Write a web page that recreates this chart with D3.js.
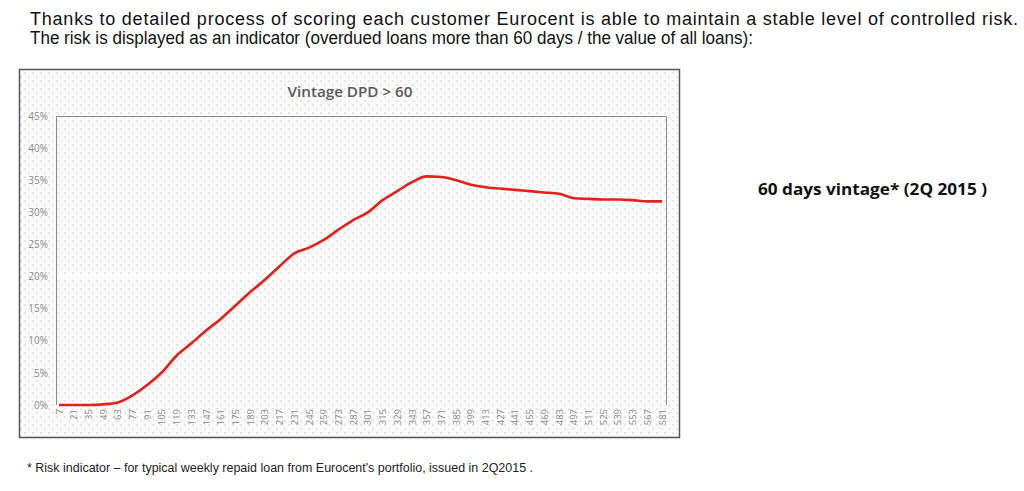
<!DOCTYPE html>
<html>
<head>
<meta charset="utf-8">
<script src="https://cdn.jsdelivr.net/npm/d3@7/dist/d3.min.js"></script>
<style>
html,body{margin:0;padding:0;background:#fff;}
svg{display:block;}
</style>
</head>
<body>
<svg id="c" width="1024" height="491"></svg>
<script>
const headerLines = [
  "Thanks to detailed process of scoring each customer Eurocent is able to maintain a stable level of controlled risk.",
  "The risk is displayed as an indicator (overdued loans more than 60 days / the value of all loans):"
];
const chartTitle = "Vintage DPD > 60";
const sideNote = "60 days vintage* (2Q 2015 )";
const footNote = "* Risk indicator \u2013 for typical weekly repaid loan from Eurocent's portfolio, issued in 2Q2015 .";

const days = [7,21,35,49,63,77,91,105,119,133,147,161,175,189,203,217,231,245,259,273,287,301,315,329,343,357,371,385,399,413,427,441,455,469,483,497,511,525,539,553,567,581];
const riskPct = [0,0,0,0.1,0.4,1.5,3.1,5.1,7.7,9.6,11.6,13.4,15.5,17.6,19.5,21.6,23.6,24.5,25.7,27.3,28.8,30.0,31.9,33.3,34.7,35.6,35.5,35.0,34.3,33.9,33.7,33.5,33.3,33.1,32.9,32.2,32.1,32.0,32.0,31.9,31.7,31.7];
const yTicks = [0,5,10,15,20,25,30,35,40,45];

const svg = d3.select("#c");

// pattern background
const defs = svg.append("defs");
const pat = defs.append("pattern").attr("id","dots").attr("width",8).attr("height",8).attr("patternUnits","userSpaceOnUse");
pat.append("rect").attr("width",8).attr("height",8).attr("fill","#fcfbfb");
pat.append("circle").attr("cx",1).attr("cy",1).attr("r",0.7).attr("fill","#cfbcbc");
pat.append("circle").attr("cx",5).attr("cy",5).attr("r",0.7).attr("fill","#c6c6c6");

// header
svg.append("g").selectAll("text").data(headerLines).join("text")
  .attr("x",30).attr("y",(d,i)=>25+i*19)
  .attr("font-family","Liberation Sans, Arial, sans-serif")
  .attr("font-size",18).attr("fill","#111")
  .attr("textLength",(d,i)=>i===0?988:723)
  .attr("lengthAdjust",(d,i)=>i===0?"spacing":"spacingAndGlyphs")
  .text(d=>d);

// chart box
svg.append("rect").attr("x",19.5).attr("y",69.5).attr("width",660).attr("height",368)
  .attr("fill","url(#dots)").attr("stroke","#555").attr("stroke-width",1.5);

const x = d3.scaleLinear().domain([7,581]).range([59,662]);
const y = d3.scaleLinear().domain([0,45]).range([405,116]);

// plot border (left, top, right)
svg.append("path")
  .attr("d",`M56.5,405 V116.5 H666.5 V405`)
  .attr("fill","none").attr("stroke","#8c8c8c").attr("stroke-width",1);

// faint gridline
svg.append("line").attr("x1",57).attr("x2",666).attr("y1",y(20)).attr("y2",y(20))
  .attr("stroke","#ffffff").attr("stroke-width",1.5).attr("opacity",0.8);

// title
svg.append("text").attr("x",350).attr("y",97).attr("text-anchor","middle")
  .attr("font-family","Open Sans, sans-serif").attr("font-weight",600)
  .attr("font-size",14.5).attr("fill","#595959")
  .attr("textLength",125).attr("lengthAdjust","spacingAndGlyphs").text(chartTitle);

// y axis
const yAxis = d3.axisLeft(y).tickValues(yTicks).tickSize(0).tickPadding(5).tickFormat(d=>d+"%");
const gy = svg.append("g").attr("transform","translate(53,0)").call(yAxis);
gy.select(".domain").remove();
gy.selectAll("text").attr("font-family","Open Sans, sans-serif").attr("font-size",10).attr("fill","#8a8a8a");

// x axis
const xAxis = d3.axisBottom(x).tickValues(days).tickSize(0).tickPadding(0).tickFormat(d=>d);
const gx = svg.append("g").attr("transform","translate(0,407)").call(xAxis);
gx.select(".domain").remove();
gx.selectAll("text")
  .attr("font-family","Open Sans, sans-serif").attr("font-size",9.5).attr("fill","#8a8a8a")
  .attr("text-anchor","end").attr("dy","0.32em")
  .attr("transform","rotate(-90)").attr("x",-2).attr("y",0);

// line
const line = d3.line().x((d,i)=>x(days[i])).y(d=>y(d)).curve(d3.curveMonotoneX);
svg.append("path").datum(riskPct).attr("d",line)
  .attr("fill","none").attr("stroke","#e3201b").attr("stroke-width",2.6).attr("stroke-linejoin","round");

// side note
svg.append("text").attr("x",758).attr("y",195)
  .attr("font-family","Open Sans, sans-serif").attr("font-weight",700)
  .attr("font-size",16).attr("fill","#111")
  .attr("textLength",229).attr("lengthAdjust","spacingAndGlyphs").text(sideNote);

// footnote
svg.append("text").attr("x",27).attr("y",472)
  .attr("font-family","Liberation Sans, Arial, sans-serif")
  .attr("font-size",12).attr("fill","#222")
  .attr("textLength",506).attr("lengthAdjust","spacingAndGlyphs").text(footNote);
</script>
</body>
</html>
